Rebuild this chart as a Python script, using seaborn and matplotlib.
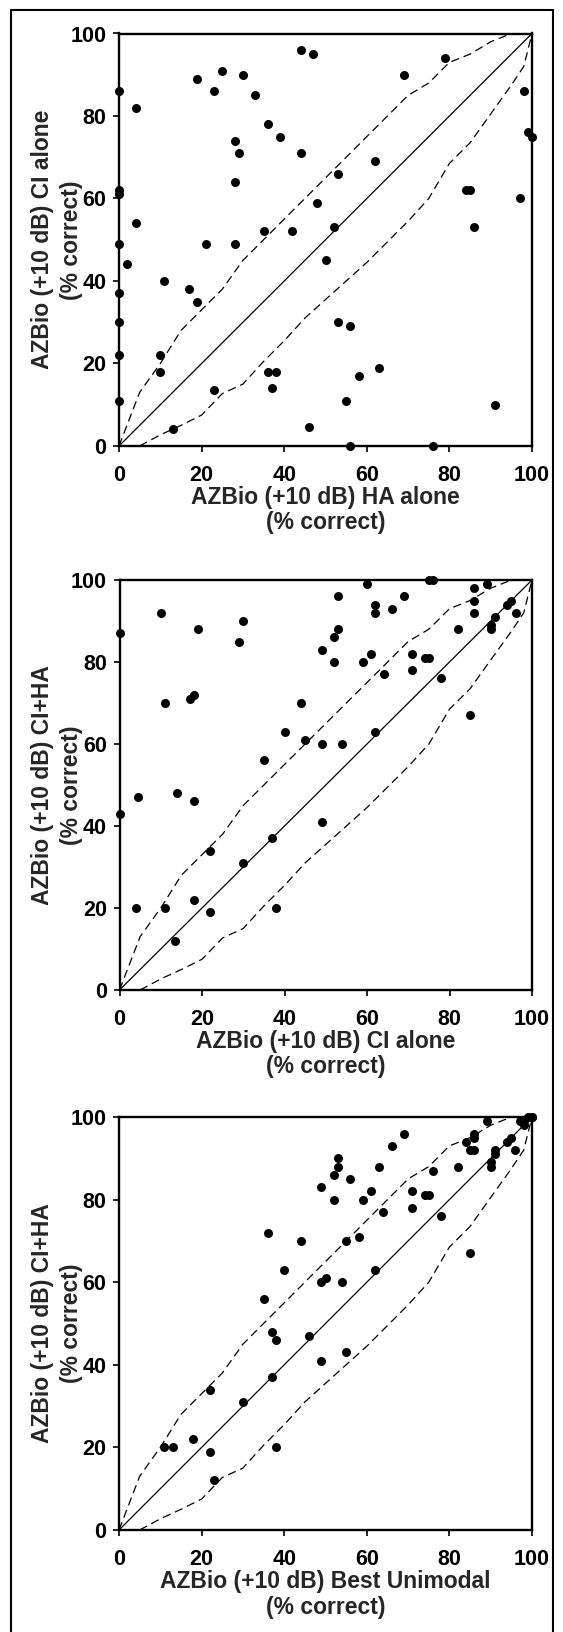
import matplotlib
matplotlib.use("Agg")
import matplotlib.pyplot as plt
import seaborn as sns
import numpy as np
from matplotlib.lines import Line2D

# ---------------- data ----------------
# Panel 1: HA alone (x) vs CI alone (y)
ha_alone = [0, 0, 0, 0, 0, 0, 0, 0,
            2, 4, 4, 10, 10, 11, 13, 17, 19, 19,
            21, 23, 23, 25, 28, 29, 28, 28, 30, 33,
            35, 36, 36, 38, 37, 39, 42, 44, 44, 47,
            46, 48, 50, 52, 53, 53, 56, 55, 56, 58,
            62, 63, 69, 76, 79, 84, 85, 86, 91, 97,
            98, 99, 100]
ci_alone_p1 = [86, 62, 61, 49, 37, 30, 22, 11,
               44, 82, 54, 22, 18, 40, 4, 38, 89, 35,
               49, 86, 13.5, 91, 74, 71, 64, 49, 90, 85,
               52, 78, 18, 18, 14, 75, 52, 96, 71, 95,
               4.5, 59, 45, 53, 66, 30, 29, 11, 0, 17,
               69, 19, 90, 0, 94, 62, 62, 53, 10, 60,
               86, 76, 75]

# Panel 2: CI alone (x) vs CI+HA (y)
ci_alone_p2 = [0, 0, 4, 4.5, 10, 11, 11, 13.5, 14, 17,
               18, 18, 18, 19, 22, 22, 29, 30, 30, 35,
               37, 38, 40, 44, 45, 49, 49, 49, 52, 52,
               53, 53, 54, 59, 60, 61, 62, 62, 62, 64,
               66, 69, 71, 71, 74, 75, 75, 76, 78, 82,
               85, 86, 86, 86, 89, 90, 90, 91, 94, 95,
               96]
ciha_p2 = [87, 43, 20, 47, 92, 70, 20, 12, 48, 71,
           72, 46, 22, 88, 34, 19, 85, 90, 31, 56,
           37, 20, 63, 70, 61, 83, 60, 41, 86, 80,
           96, 88, 60, 80, 99, 82, 94, 92, 63, 77,
           93, 96, 82, 78, 81, 81, 100, 100, 76, 88,
           67, 98, 95, 92, 99, 89, 88, 91, 94, 95,
           92]

# Panel 3: Best unimodal (x) vs CI+HA (y)
best_uni = [11, 13, 18, 22, 22, 23, 30, 35, 36, 37,
            37, 38, 38, 40, 44, 46, 49, 49, 50, 49,
            52, 52, 53, 53, 54, 55, 55, 56, 58, 59,
            61, 62, 63, 64, 66, 69, 71, 71, 74, 75,
            76, 78, 82, 84, 85, 86, 86, 86, 85, 89,
            90, 90, 91, 91, 94, 95, 96, 97, 98, 98,
            99, 100, 100]
ciha_p3 = [20, 20, 22, 34, 19, 12, 31, 56, 72, 48,
           37, 46, 20, 63, 70, 47, 83, 60, 61, 41,
           86, 80, 90, 88, 60, 70, 43, 85, 71, 80,
           82, 63, 88, 77, 93, 96, 82, 78, 81, 81,
           87, 76, 88, 94, 92, 92, 96, 95, 67, 99,
           89, 88, 92, 91, 94, 95, 92, 99, 98, 99,
           100, 100, 100]

# 95% critical difference bounds (same in every panel)
cd_upper_x = [0, 5, 10, 15, 20, 25, 30, 35, 40, 45, 50, 55, 60, 65, 70, 75, 80, 85, 90, 95, 100]
cd_upper_y = [0, 13, 20, 28, 33, 38, 45, 50, 55, 60, 65, 70, 75, 80, 85, 88, 93, 95, 98, 100, 100]
cd_lower_x = [5, 10, 15, 20, 25, 30, 35, 40, 45, 50, 55, 60, 65, 70, 75, 80, 85, 90, 95, 98, 100]
cd_lower_y = [0, 2.7, 5, 7.5, 12.7, 15, 20.5, 25.5, 31, 35.5, 40, 44.5, 49.5, 54.5, 60, 68.5, 73.5, 80.5, 87.5, 92, 100]

identity = [0, 100]
ticks = [0, 20, 40, 60, 80, 100]

panels = [
    (ha_alone, ci_alone_p1, "AZBio (+10 dB) HA alone\n(% correct)", "AZBio (+10 dB) CI alone\n(% correct)"),
    (ci_alone_p2, ciha_p2, "AZBio (+10 dB) CI alone\n(% correct)", "AZBio (+10 dB) CI+HA\n(% correct)"),
    (best_uni, ciha_p3, "AZBio (+10 dB) Best Unimodal\n(% correct)", "AZBio (+10 dB) CI+HA\n(% correct)"),
]

# ---------------- style ----------------
sns.set_theme(style="white")
plt.rcParams["font.family"] = ["Liberation Sans", "DejaVu Sans"]
plt.rcParams["font.weight"] = "bold"
plt.rcParams["lines.scale_dashes"] = False

W, H = 563, 1632
fig = plt.figure(figsize=(W / 100, H / 100), dpi=100)
fig.patch.set_facecolor("white")

# axes boxes in pixels: (left, top, right, bottom)
boxes = [(119, 33.5, 532, 446), (119.5, 580, 532, 990), (119, 1117, 532, 1530)]

tick_font = ["Liberation Sans Narrow", "Liberation Sans", "DejaVu Sans"]

for (xv, yv, xl, yl), (l, t, r, b) in zip(panels, boxes):
    ax = fig.add_axes([l / W, 1 - b / H, (r - l) / W, (b - t) / H])
    ax.set_facecolor("white")
    sns.lineplot(x=identity, y=identity, ax=ax, color="black", lw=0.9,
                 sort=False, estimator=None, zorder=2)
    sns.lineplot(x=cd_upper_x, y=cd_upper_y, ax=ax, color="black", lw=0.9,
                 linestyle=(0, (6, 3.5)), sort=False, estimator=None, zorder=2)
    sns.lineplot(x=cd_lower_x, y=cd_lower_y, ax=ax, color="black", lw=0.9,
                 linestyle=(0, (6, 3.5)), sort=False, estimator=None, zorder=2)
    sns.scatterplot(x=xv, y=yv, ax=ax, color="black", s=42, linewidth=0,
                    clip_on=False, zorder=5)
    ax.set_xlim(0, 100)
    ax.set_ylim(0, 100)
    ax.set_xticks(ticks)
    ax.set_yticks(ticks)
    ax.set_xticklabels([str(v) for v in ticks], family=tick_font, fontsize=15.5, fontweight="bold")
    ax.set_yticklabels([str(v) for v in ticks], family=tick_font, fontsize=15.5, fontweight="bold")
    ax.tick_params(axis="x", direction="out", length=4, width=1.2, pad=10, colors="black", bottom=True)
    ax.tick_params(axis="y", direction="out", length=4, width=1.2, pad=5, colors="black", left=True)
    for sp in ax.spines.values():
        sp.set_visible(True)
        sp.set_color("black")
        sp.set_linewidth(1.7)
    ax.set_xlabel(xl, fontsize=16.5, fontweight="bold", linespacing=1.12)
    ax.set_ylabel(yl, fontsize=16.5, fontweight="bold", linespacing=1.33)
    ax.xaxis.label.set_va("center")
    ax.yaxis.label.set_va("center")
    ax.xaxis.set_label_coords(0.5, -0.156)
    ax.yaxis.set_label_coords(-0.151, 0.5)
    ax.grid(False)

# outer frame of the figure panel
fx0, fx1, fy0 = 10.8 / W, 553 / W, 1 - 9.6 / H
fig.add_artist(Line2D([fx0, fx0], [0, fy0], transform=fig.transFigure, color="black", lw=1.5))
fig.add_artist(Line2D([fx0, fx1], [fy0, fy0], transform=fig.transFigure, color="black", lw=1.5))
fig.add_artist(Line2D([fx1, fx1], [0, fy0], transform=fig.transFigure, color="black", lw=1.5))

fig.savefig("out.png", dpi=100, facecolor="white")
